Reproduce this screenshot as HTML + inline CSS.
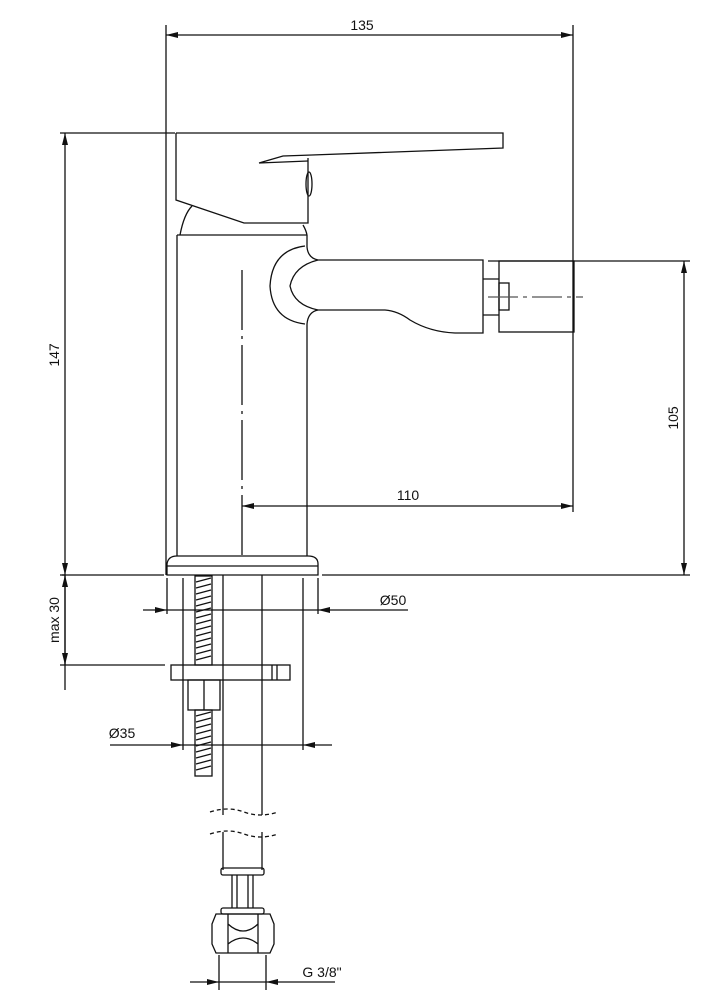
<!DOCTYPE html>
<html><head><style>html,body{margin:0;padding:0;background:#fff}svg{display:block}</style></head>
<body>
<svg width="712" height="1008" viewBox="0 0 712 1008" xmlns="http://www.w3.org/2000/svg" font-family="Liberation Sans, sans-serif">
<defs>
<marker id="a" viewBox="0 0 12 6" refX="12" refY="3" markerWidth="12" markerHeight="6" orient="auto-start-reverse" markerUnits="userSpaceOnUse"><path d="M0,0 L12,3 L0,6z" fill="#111"/></marker>
</defs>
<g stroke="#111" stroke-width="1.3" fill="none">
<!-- extension lines -->
<line x1="166" y1="25" x2="166" y2="575"/>
<line x1="573" y1="25" x2="573" y2="512"/>
<line x1="60" y1="133" x2="175" y2="133"/>
<line x1="488" y1="261" x2="690" y2="261"/>
<line x1="60" y1="575" x2="164" y2="575"/>
<line x1="322" y1="575" x2="690" y2="575"/>
<!-- dims -->
<line x1="166" y1="35" x2="573" y2="35" marker-start="url(#a)" marker-end="url(#a)"/>
<line x1="65" y1="133" x2="65" y2="575" marker-start="url(#a)" marker-end="url(#a)"/>
<line x1="684" y1="261" x2="684" y2="575" marker-start="url(#a)" marker-end="url(#a)"/>
<line x1="242" y1="506" x2="573" y2="506" marker-start="url(#a)" marker-end="url(#a)"/>
<!-- centerline body -->
<line x1="242" y1="270" x2="242" y2="556" stroke-dasharray="60,6,3,6"/>
<!-- handle -->
<path d="M176,133 L503,133 L503,148 L312,155 M176,133 L176,200 L244,223 L308,223 L308,158"/>
<path d="M259,163 L283,156 L312,155 M259,163 L308,161"/>
<ellipse cx="309" cy="184" rx="3" ry="12"/>
<path d="M180,235 Q184,214 192,206 M303,225 Q306,230 307,235"/>
<!-- body -->
<path d="M177,235 L307,235 M177,235 L177,556 M307,235 L307,247 M307,324 L307,556"/>
<!-- spout -->
<path d="M307,247 Q308,258 318,260 L483,260 L483,333 L455,333 Q430,332 410,320 Q398,311 385,310 L318,310 Q308,312 307,324"/>
<path d="M305,246 Q272,250 270,286 Q272,320 305,324"/>
<path d="M318,260 Q294,266 290,286 Q294,305 318,310"/>
<path d="M483,279 L499,279 M483,315 L499,315"/>
<rect x="499" y="261" width="75" height="71"/>
<rect x="499" y="283" width="10" height="27"/>
<line x1="488" y1="297" x2="583" y2="297" stroke-dasharray="30,5,4,5" stroke="#555"/>
<!-- base plate -->
<path d="M167,575 L167,564 Q168,556 177,556 L308,556 Q318,556 318,564 L318,575 Z M167,566 L318,566"/>
<!-- under -->
<line x1="167" y1="578" x2="167" y2="614"/>
<line x1="318" y1="578" x2="318" y2="614"/>
<line x1="143" y1="610" x2="167" y2="610" marker-end="url(#a)"/>
<line x1="408" y1="610" x2="318" y2="610" marker-end="url(#a)"/>
<line x1="167" y1="610" x2="318" y2="610"/>
<line x1="183" y1="578" x2="183" y2="750"/>
<line x1="303" y1="578" x2="303" y2="750"/>
<line x1="110" y1="745" x2="183" y2="745" marker-end="url(#a)"/>
<line x1="332" y1="745" x2="303" y2="745" marker-end="url(#a)"/>
<line x1="183" y1="745" x2="303" y2="745"/>
<line x1="60" y1="665" x2="165" y2="665"/>
<line x1="65" y1="575" x2="65" y2="690"/>
<path d="M65,575 l-3,-0 M65,580"/>
<line x1="223" y1="575" x2="223" y2="815"/>
<line x1="262" y1="575" x2="262" y2="815"/>
<line x1="223" y1="832" x2="223" y2="870"/>
<line x1="262" y1="832" x2="262" y2="870"/>
<path d="M210,812 Q228,806 244,812 Q260,818 278,812 M210,834 Q228,828 244,834 Q260,840 278,834" stroke-dasharray="4,3"/>
<!-- threaded rod -->
<rect x="195" y="576" width="17" height="89"/>
<rect x="195" y="710" width="17" height="66"/>
<path d="M196,582 l15,-4 M196,588 l15,-4 M196,594 l15,-4 M196,600 l15,-4 M196,606 l15,-4 M196,612 l15,-4 M196,618 l15,-4 M196,624 l15,-4 M196,630 l15,-4 M196,636 l15,-4 M196,642 l15,-4 M196,648 l15,-4 M196,654 l15,-4 M196,660 l15,-4 M196,716 l15,-4 M196,722 l15,-4 M196,728 l15,-4 M196,734 l15,-4 M196,740 l15,-4 M196,746 l15,-4 M196,752 l15,-4 M196,758 l15,-4 M196,764 l15,-4 M196,770 l15,-4"/>
<!-- washer & nut -->
<rect x="171" y="665" width="119" height="15"/>
<line x1="272" y1="665" x2="272" y2="680"/><line x1="277" y1="665" x2="277" y2="680"/>
<rect x="188" y="680" width="32" height="30"/>
<line x1="204" y1="680" x2="204" y2="710"/>
<!-- fitting -->
<rect x="221" y="868" width="43" height="7" rx="2"/>
<rect x="221" y="908" width="43" height="6" rx="2"/>
<path d="M232,875 V908 M237,875 V908 M248,875 V908 M253,875 V908"/>
<path d="M216,914 L270,914 L274,924 L274,944 L270,953 L216,953 L212,944 L212,924 Z"/>
<path d="M228,914 V953 M258,914 V953 M228,924 Q243,938 258,924 M228,944 Q243,932 258,944"/>
<line x1="219" y1="955" x2="219" y2="990"/>
<line x1="266" y1="955" x2="266" y2="990"/>
<line x1="190" y1="982" x2="219" y2="982" marker-end="url(#a)"/>
<line x1="335" y1="982" x2="266" y2="982" marker-end="url(#a)"/>
<line x1="219" y1="982" x2="266" y2="982"/>
</g>
<line x1="65" y1="640" x2="65" y2="575" stroke="#111" stroke-width="1.3" marker-end="url(#a)"/>
<line x1="65" y1="640" x2="65" y2="665" stroke="#111" stroke-width="1.3" marker-end="url(#a)"/>
<g fill="#111" font-size="14">
<text x="362" y="30" text-anchor="middle">135</text>
<text x="408" y="500" text-anchor="middle">110</text>
<text x="393" y="605" text-anchor="middle">Ø50</text>
<text x="122" y="738" text-anchor="middle">Ø35</text>
<text x="322" y="977" text-anchor="middle">G 3/8"</text>
<text transform="translate(59,355) rotate(-90)" text-anchor="middle">147</text>
<text transform="translate(59,620) rotate(-90)" text-anchor="middle">max 30</text>
<text transform="translate(678,418) rotate(-90)" text-anchor="middle">105</text>
</g>
</svg>
</body></html>
